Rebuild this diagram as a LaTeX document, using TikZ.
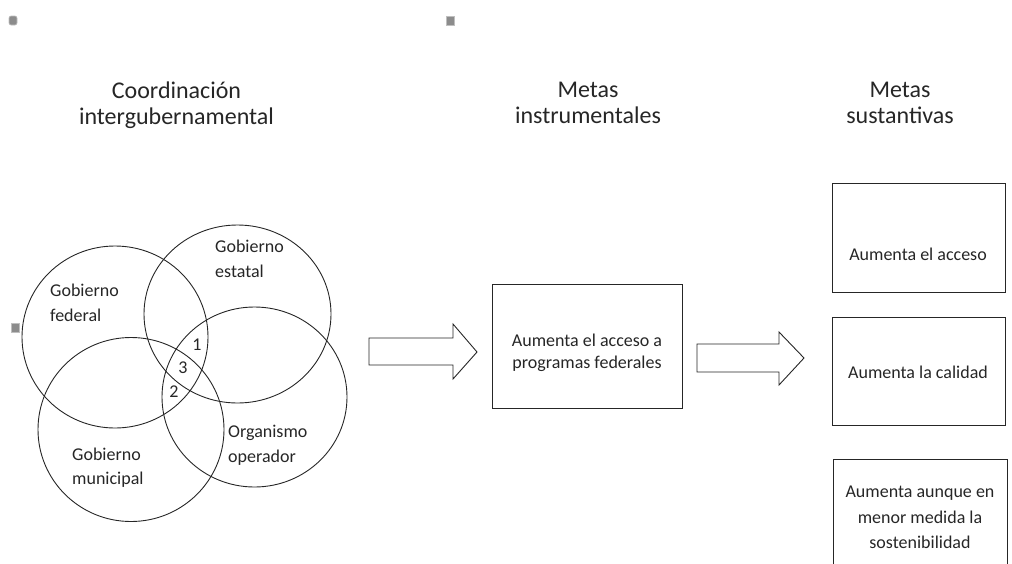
\documentclass[tikz,border=0pt]{standalone}
\usepackage{fontspec}
\setmainfont{Carlito}
\begin{document}
\begin{tikzpicture}[x=1pt,y=-1pt,
  outline/.style={draw=black!85, line width=0.9pt},
  heading/.style={anchor=base, inner sep=0pt, text=black!85, font=\fontsize{24}{27}\selectfont},
  label/.style={anchor=base west, inner sep=0pt, text=black!85, font=\fontsize{18}{25}\selectfont},
  boxtext/.style={anchor=base, inner sep=0pt, text=black!85, font=\fontsize{18}{25}\selectfont},
  goalbox/.style={outline, rectangle, inner sep=0pt},
  handle/.style={fill=black!45, draw=black!25, line width=0.6pt}]

\useasboundingbox (0,0) rectangle (1012,563);

% handles
\filldraw[handle, rounded corners=2pt] (9,16) rectangle (17,25);
\filldraw[handle] (446,16) rectangle (454,25);
\filldraw[handle] (11,323) rectangle (19,332);

% column headings
\node[heading] (h1a) at (176.5,98) {Coordinación};
\node[heading] (h1b) at (176.5,124) {intergubernamental};
\node[heading] (h2a) at (588,97) {Metas};
\node[heading] (h2b) at (588,123) {instrumentales};
\node[heading] (h3a) at (900,97) {Metas};
\node[heading] (h3b) at (900,123) {sustantivas};

% four overlapping levels of government
\draw[outline] (115,337) ellipse [x radius=93pt, y radius=91pt];
\draw[outline] (237.5,314) ellipse [x radius=93.5pt, y radius=89pt];
\draw[outline] (131,429.5) ellipse [x radius=93pt, y radius=92pt];
\draw[outline] (254.5,397) ellipse [x radius=92.5pt, y radius=90pt];

\node[label] (fed1) at (50,296) {Gobierno};
\node[label] (fed2) at (50,321) {federal};
\node[label] (est1) at (215,252) {Gobierno};
\node[label] (est2) at (215,277) {estatal};
\node[label] (mun1) at (72,460) {Gobierno};
\node[label] (mun2) at (72,484) {municipal};
\node[label] (org1) at (228,437) {Organismo};
\node[label] (org2) at (228,462) {operador};

\node[boxtext] (n1) at (197,350) {1};
\node[boxtext] (n3) at (183,373) {3};
\node[boxtext] (n2) at (174,397) {2};

% block arrows
\draw[outline, line join=miter] (369,338) -- (453,338) -- (453,324) -- (477,352)
  -- (453,379) -- (453,365) -- (369,365) -- cycle;
\draw[outline, line join=miter] (697,344) -- (779,344) -- (779,332) -- (804,358)
  -- (779,385) -- (779,372) -- (697,372) -- cycle;

% instrumental goal
\node[goalbox, minimum width=190pt, minimum height=124pt] (inst) at (587,346) {};
\node[boxtext] (inst1) at (587,346) {Aumenta el acceso a};
\node[boxtext] (inst2) at (587,368) {programas federales};

% substantive goals
\node[goalbox, minimum width=173pt, minimum height=109pt] (acc) at (918.5,237.5) {};
\node[boxtext] (acct) at (918,260) {Aumenta el acceso};
\node[goalbox, minimum width=173pt, minimum height=108pt] (cal) at (918.5,371) {};
\node[boxtext] (calt) at (918,378) {Aumenta la calidad};
\node[goalbox, minimum width=174pt, minimum height=116pt] (sos) at (920,517) {};
\node[boxtext] (sos1) at (920,497) {Aumenta aunque en};
\node[boxtext] (sos2) at (920,523) {menor medida la};
\node[boxtext] (sos3) at (920,548) {sostenibilidad};
\end{tikzpicture}
\end{document}
